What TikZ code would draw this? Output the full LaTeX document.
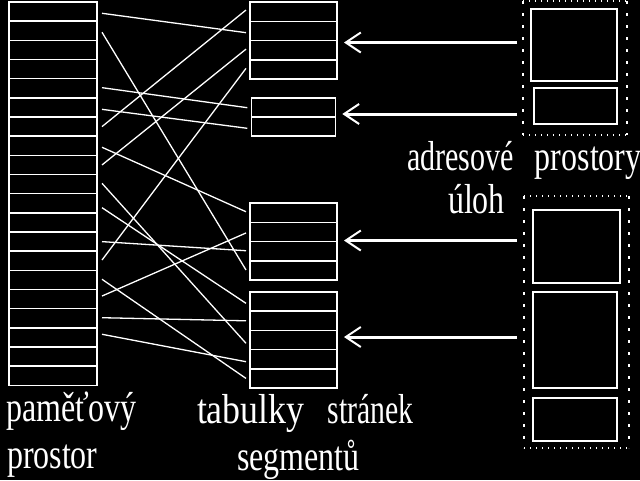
\documentclass[tikz,border=0pt]{standalone}
\usepackage{fontspec}
\setmainfont{Liberation Serif}
\usetikzlibrary{arrows.meta}
\newcommand\tallword[2]{\scalebox{#1}[1.31]{#2}}
\begin{document}
\begin{tikzpicture}[x=1pt,y=-1pt,
  cell/.style={draw=white, line width=1.5pt, minimum width=88pt, minimum height=19.17pt, inner sep=0pt, outer sep=0pt},
  box/.style={draw=white, line width=1.8pt, inner sep=0pt, outer sep=0pt},
  frame/.style={inner sep=0pt, outer sep=0pt},
  hdots/.style={draw=white, line width=1.3pt, dash pattern=on 1.3pt off 4.7pt},
  vdots/.style={draw=white, line width=1.3pt, dash pattern=on 2.5pt off 9.5pt},
  conn/.style={draw=white, line width=1.3pt},
  arr/.style={draw=white, line width=3pt, -{Straight Barb[length=15pt,width=20pt,line width=2pt]}},
  txt/.style={text=white, inner sep=0pt, outer sep=0pt, anchor=base west, font=\fontsize{32}{32}\selectfont}]
\path[use as bounding box, fill=black] (0,0) rectangle (640,480);
% memory
\foreach \i in {1,...,20}
  \node[cell] (m\i) at (53,{2+19.17*(\i-0.5)}) {};
% page tables
\foreach \i in {1,...,4}
  \node[cell, minimum width=87pt, minimum height=19.25pt] (a\i) at (293.5,{2+19.25*(\i-0.5)}) {};
\foreach \i in {1,2}
  \node[cell, minimum width=84pt, minimum height=19pt] (b\i) at (293.3,{98+19*(\i-0.5)}) {};
\foreach \i in {1,...,4}
  \node[cell, minimum width=87pt, minimum height=19.25pt] (c\i) at (293.5,{203+19.25*(\i-0.5)}) {};
\foreach \i in {1,...,5}
  \node[cell, minimum width=87pt, minimum height=19.2pt] (d\i) at (293.5,{292+19.2*(\i-0.5)}) {};
% connectors
\foreach \f/\fd/\t/\td in {m1/-1.7/a2/-1.8, m2/-1.5/c4/0.4, m7/0/a1/1.6, m9/0/a3/1,
    m14/0.8/a4/1, m5/0.6/b1/-0.2, m6/-1.9/b2/-1.8, m8/-1.5/c1/0.9, m10/0.8/d3/-3.3,
    m11/-4.4/d1/-1.7, m13/0/c3/0.4, m16/3.1/c2/-1.1, m15/0.7/d5/0, m17/0.6/d2/0, m18/3.2/d4/-2.5}
  \draw[conn] ([xshift=5pt,yshift={\fd*1pt}]\f.east) -- ([xshift=-4pt,yshift={\td*1pt}]\t.west);
% address spaces
\node[frame, minimum width=104pt, minimum height=134pt] (fr1) at (575,68) {};
\node[frame, minimum width=105pt, minimum height=252pt] (fr2) at (576.5,322) {};
\foreach \fr in {fr1,fr2}{
  \draw[hdots] (\fr.north west) -- (\fr.north east);
  \draw[hdots] (\fr.south west) -- (\fr.south east);
  \draw[vdots] (\fr.north west) -- (\fr.south west);
  \draw[vdots] (\fr.north east) -- (\fr.south east);
}
\node[box, minimum width=86pt, minimum height=72pt] (bA) at (574,45) {};
\node[box, minimum width=83pt, minimum height=36pt] (bB) at (575.5,106) {};
\node[box, minimum width=87pt, minimum height=73pt] (bC) at (576.5,246.5) {};
\node[box, minimum width=84pt, minimum height=96pt] (bD) at (575,340) {};
\node[box, minimum width=84pt, minimum height=43pt] (bE) at (575,419.5) {};
% arrows
\coordinate (e1) at ([xshift=7pt,yshift=-2pt]a2.south east);
\coordinate (e2) at ([xshift=7pt,yshift=3pt]b1.south east);
\coordinate (e3) at ([xshift=7pt,yshift=1pt]c2.south east);
\coordinate (e4) at ([xshift=7pt,yshift=3pt]d3.east);
\draw[arr] ([xshift=-6pt]fr1.west |- e1) -- (e1);
\draw[arr] ([xshift=-6pt]fr1.west |- e2) -- (e2);
\draw[arr] ([xshift=-7pt]fr2.west |- e3) -- (e3);
\draw[arr] ([xshift=-7pt]fr2.west |- e4) -- (e4);
% labels
\node[txt] (l1) at (6,421) {\tallword{1.0}{paměťový}};
\node[txt] (l2) at (7,468) {\tallword{1.0}{prostor}};
\node[txt] (l3) at (197,423) {\tallword{1.12}{tabulky}\hspace{23pt}\tallword{0.93}{stránek}};
\node[txt] (l4) at (237,470) {\tallword{1.0}{segmentů}};
\node[txt] (l5) at (407,170) {\tallword{0.94}{adresové}\hspace{21pt}\tallword{1.0}{prostory}};
\node[txt] (l6) at (448,213) {\tallword{1.0}{úloh}};
\end{tikzpicture}
\end{document}
